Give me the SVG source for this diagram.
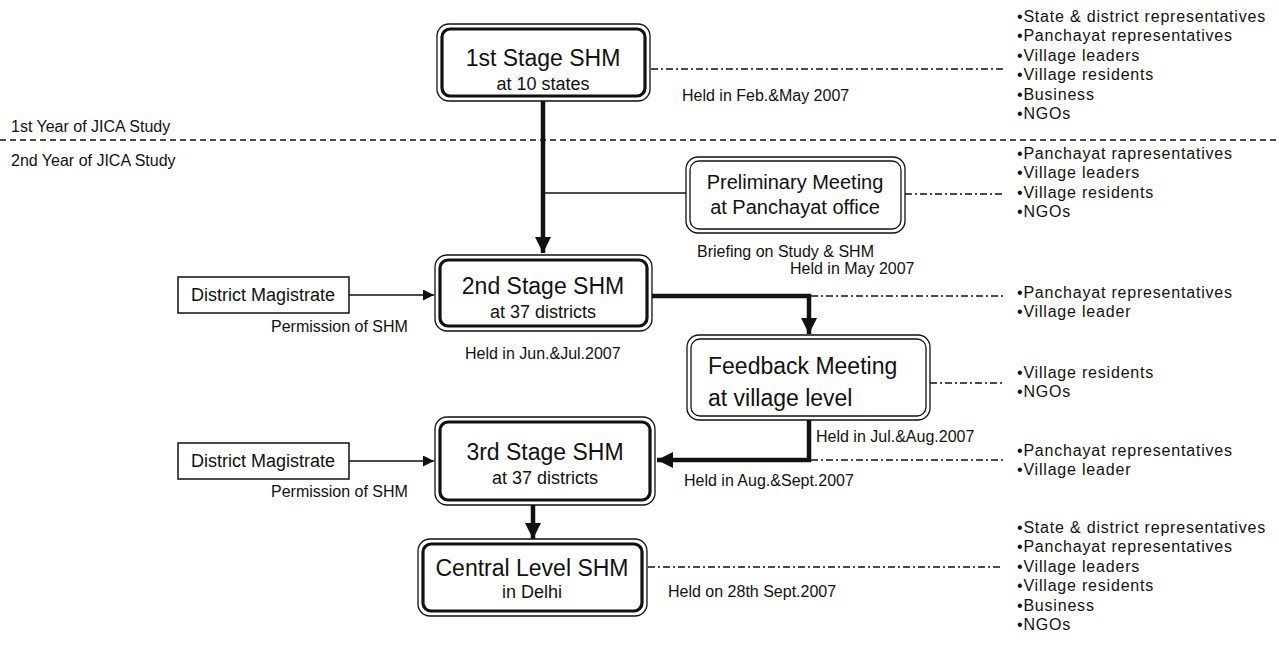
<svg xmlns="http://www.w3.org/2000/svg" width="1279" height="646" viewBox="0 0 1279 646">
  <defs>
    <style>
      text { font-family: "Liberation Sans", Arial, sans-serif; fill: #111; }
      .t-main { font-size: 23px; text-anchor: middle; }
      .t-sub { font-size: 18px; text-anchor: middle; }
      .t-meet { font-size: 20px; text-anchor: middle; }
      .t-fb { font-size: 23px; }
      .t-note { font-size: 16px; }
      .t-dm { font-size: 18px; text-anchor: middle; }
      .t-list { font-size: 16px; letter-spacing: 0.8px; }
      .outer { fill: #fff; stroke: #111; stroke-width: 1.3; }
      .inner-thick { fill: none; stroke: #111; stroke-width: 3.2; }
      .inner-thin { fill: none; stroke: #111; stroke-width: 1.3; }
      .plain { fill: #fff; stroke: #111; stroke-width: 1.5; }
      .thick { fill: none; stroke: #111; stroke-width: 4.5; }
      .thin { fill: none; stroke: #111; stroke-width: 1.5; }
      .dashdot { fill: none; stroke: #111; stroke-width: 1.3; stroke-dasharray: 7 3 2 3; }
      .dashed { fill: none; stroke: #111; stroke-width: 1.3; stroke-dasharray: 6 4; }
    </style>
    <marker id="head-big" viewBox="0 0 10 10" refX="10" refY="5" markerWidth="16" markerHeight="16" markerUnits="userSpaceOnUse" orient="auto">
      <path d="M0,0 L10,5 L0,10 Z" fill="#111"/>
    </marker>
    <marker id="head-small" viewBox="0 0 10 10" refX="10" refY="5" markerWidth="11" markerHeight="11" markerUnits="userSpaceOnUse" orient="auto">
      <path d="M0,0 L10,5 L0,10 Z" fill="#111"/>
    </marker>
  </defs>

  <rect width="1279" height="646" fill="#fff"/>

  <!-- study year divider -->
  <g id="year-divider">
    <text class="t-note" x="11" y="132">1st Year of JICA Study</text>
    <line class="dashed" x1="0" y1="140" x2="1279" y2="140"/>
    <text class="t-note" x="11" y="166">2nd Year of JICA Study</text>
  </g>

  <!-- connectors -->
  <g id="connectors">
    <!-- stage 1 to stage 2 -->
    <line class="thick" x1="543" y1="100" x2="543" y2="253" marker-end="url(#head-big)"/>
    <!-- branch to preliminary meeting -->
    <line class="thin" x1="543" y1="193" x2="686" y2="193"/>
    <!-- district magistrate permissions -->
    <line class="thin" x1="349" y1="295" x2="434" y2="295" marker-end="url(#head-small)"/>
    <line class="thin" x1="349" y1="461" x2="434" y2="461" marker-end="url(#head-small)"/>
    <!-- stage 2 to feedback meeting -->
    <polyline class="thick" points="652,296 809,296 809,334" marker-end="url(#head-big)"/>
    <!-- feedback meeting to stage 3 -->
    <polyline class="thick" points="809,420 809,460 657,460" marker-end="url(#head-big)"/>
    <!-- stage 3 to central level -->
    <line class="thick" x1="533" y1="505" x2="533" y2="539" marker-end="url(#head-big)"/>
    <!-- participant leaders -->
    <line class="dashdot" x1="651" y1="69" x2="1003" y2="69"/>
    <line class="dashdot" x1="905" y1="194" x2="1003" y2="194"/>
    <line class="dashdot" x1="811" y1="296" x2="1003" y2="296"/>
    <line class="dashdot" x1="930" y1="383" x2="1003" y2="383"/>
    <line class="dashdot" x1="811" y1="460" x2="1003" y2="460"/>
    <line class="dashdot" x1="648" y1="567" x2="1003" y2="567"/>
  </g>

  <!-- stage 1 -->
  <g id="stage1">
    <rect class="outer" x="437" y="24" width="213" height="77" rx="12"/>
    <rect class="inner-thick" x="442" y="29" width="203" height="67" rx="8"/>
    <text class="t-main" x="543" y="66">1st Stage SHM</text>
    <text class="t-sub" x="543" y="90">at 10 states</text>
    <text class="t-note" x="682" y="101">Held in Feb.&amp;May 2007</text>
  </g>

  <!-- preliminary meeting -->
  <g id="preliminary">
    <rect class="outer" x="686" y="157" width="219" height="76" rx="12"/>
    <rect class="inner-thin" x="690" y="161" width="211" height="68" rx="9"/>
    <text class="t-meet" x="795" y="189">Preliminary Meeting</text>
    <text class="t-meet" x="795" y="214">at Panchayat office</text>
    <text class="t-note" x="697" y="257">Briefing on Study &amp; SHM</text>
    <text class="t-note" x="790" y="274">Held in May 2007</text>
  </g>

  <!-- stage 2 -->
  <g id="stage2">
    <rect class="outer" x="435" y="255" width="217" height="76" rx="12"/>
    <rect class="inner-thick" x="440" y="260" width="207" height="66" rx="8"/>
    <text class="t-main" x="543" y="294">2nd Stage SHM</text>
    <text class="t-sub" x="543" y="318">at 37 districts</text>
    <text class="t-note" x="465" y="359">Held in Jun.&amp;Jul.2007</text>
  </g>

  <g id="magistrate1">
    <rect class="plain" x="178" y="277" width="171" height="36"/>
    <text class="t-dm" x="263" y="301">District Magistrate</text>
    <text class="t-note" x="271" y="332">Permission of SHM</text>
  </g>

  <!-- feedback meeting -->
  <g id="feedback">
    <rect class="outer" x="687" y="335" width="243" height="85" rx="12"/>
    <rect class="inner-thin" x="691" y="339" width="235" height="77" rx="9"/>
    <text class="t-fb" x="708" y="374">Feedback Meeting</text>
    <text class="t-fb" x="708" y="406">at village level</text>
    <text class="t-note" x="816" y="442">Held in Jul.&amp;Aug.2007</text>
  </g>

  <!-- stage 3 -->
  <g id="stage3">
    <rect class="outer" x="435" y="417" width="220" height="88" rx="12"/>
    <rect class="inner-thick" x="440" y="422" width="210" height="78" rx="8"/>
    <text class="t-main" x="545" y="460">3rd Stage SHM</text>
    <text class="t-sub" x="545" y="484">at 37 districts</text>
    <text class="t-note" x="684" y="486">Held in Aug.&amp;Sept.2007</text>
  </g>

  <g id="magistrate2">
    <rect class="plain" x="178" y="443" width="171" height="36"/>
    <text class="t-dm" x="263" y="467">District Magistrate</text>
    <text class="t-note" x="271" y="497">Permission of SHM</text>
  </g>

  <!-- central level -->
  <g id="central">
    <rect class="outer" x="418" y="539" width="229" height="77" rx="12"/>
    <rect class="inner-thick" x="423" y="544" width="219" height="67" rx="8"/>
    <text class="t-main" x="532" y="576">Central Level SHM</text>
    <text class="t-sub" x="532" y="598">in Delhi</text>
    <text class="t-note" x="668" y="597">Held on 28th Sept.2007</text>
  </g>

  <!-- participant lists -->
  <g id="participants1">
    <text class="t-list" x="1017" y="22">•State &amp; district representatives</text>
    <text class="t-list" x="1017" y="41">•Panchayat representatives</text>
    <text class="t-list" x="1017" y="61">•Village leaders</text>
    <text class="t-list" x="1017" y="80">•Village residents</text>
    <text class="t-list" x="1017" y="100">•Business</text>
    <text class="t-list" x="1017" y="119">•NGOs</text>
  </g>
  <g id="participants2">
    <text class="t-list" x="1017" y="159">•Panchayat rapresentatives</text>
    <text class="t-list" x="1017" y="178">•Village leaders</text>
    <text class="t-list" x="1017" y="198">•Village residents</text>
    <text class="t-list" x="1017" y="217">•NGOs</text>
  </g>
  <g id="participants3">
    <text class="t-list" x="1017" y="298">•Panchayat representatives</text>
    <text class="t-list" x="1017" y="317">•Village leader</text>
  </g>
  <g id="participants4">
    <text class="t-list" x="1017" y="378">•Village residents</text>
    <text class="t-list" x="1017" y="397">•NGOs</text>
  </g>
  <g id="participants5">
    <text class="t-list" x="1017" y="456">•Panchayat representatives</text>
    <text class="t-list" x="1017" y="475">•Village leader</text>
  </g>
  <g id="participants6">
    <text class="t-list" x="1017" y="533">•State &amp; district representatives</text>
    <text class="t-list" x="1017" y="552">•Panchayat representatives</text>
    <text class="t-list" x="1017" y="572">•Village leaders</text>
    <text class="t-list" x="1017" y="591">•Village residents</text>
    <text class="t-list" x="1017" y="611">•Business</text>
    <text class="t-list" x="1017" y="630">•NGOs</text>
  </g>
</svg>
